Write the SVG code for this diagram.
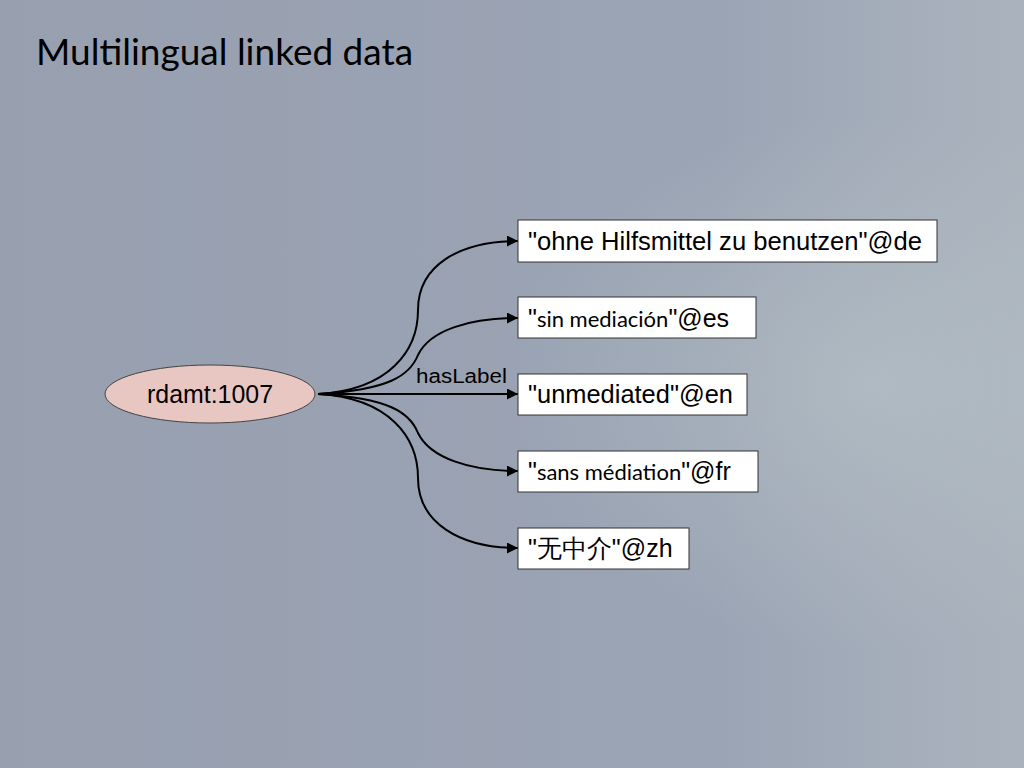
<svg xmlns="http://www.w3.org/2000/svg" width="1024" height="768" viewBox="0 0 1024 768">
<defs>
<linearGradient id="bg" x1="0" y1="0" x2="1" y2="0">
<stop offset="0" stop-color="#98a0b0"/><stop offset="0.7" stop-color="#9ba4b4"/><stop offset="1" stop-color="#aab3bd"/>
</linearGradient>
<radialGradient id="glow" cx="0.85" cy="0.5" r="0.35">
<stop offset="0" stop-color="#b8c3c8" stop-opacity="0.6"/><stop offset="1" stop-color="#b8c3c8" stop-opacity="0"/>
</radialGradient>
<marker id="arr" viewBox="0 0 10 10" refX="10" refY="5" markerWidth="11" markerHeight="11" markerUnits="userSpaceOnUse" orient="auto">
<path d="M0,0 L10,5 L0,10 z" fill="#000"/>
</marker>
</defs>
<style>
.box{fill:#fff;stroke:#333;stroke-width:1}
.t{font-family:"Liberation Sans",Arial,sans-serif;font-size:25px;fill:#000}
.c{font-family:Lato,"Open Sans",sans-serif;font-size:22px}
.e{fill:none;stroke:#000;stroke-width:2;marker-end:url(#arr)}
</style>
<rect width="1024" height="768" fill="url(#bg)"/>
<rect width="1024" height="768" fill="url(#glow)"/>
<text x="36" y="65" font-family="Lato,'Open Sans',sans-serif" font-size="37" fill="#000">Multilingual linked data</text>
<g id="edges">
<path class="e" d="M318,394 C390,390 418,350 418,310 C418,265 460,241 518,241"/>
<path class="e" d="M318,394 C390,390 410,375 418,355 C430,330 470,318 518,318"/>
<path class="e" d="M318,394 L518,394"/>
<path class="e" d="M318,394 C390,398 410,413 418,433 C430,458 470,471 518,471"/>
<path class="e" d="M318,394 C390,398 418,438 418,478 C418,523 460,548 518,548"/>
<text x="416" y="383" font-family="'Liberation Sans',Arial,sans-serif" font-size="20" textLength="91" lengthAdjust="spacingAndGlyphs">hasLabel</text>
</g>
<g id="n0"><ellipse cx="210" cy="394" rx="105" ry="29" fill="#e8c6c2" stroke="#444" stroke-width="1"/>
<text class="t" x="210" y="403" text-anchor="middle" textLength="126" lengthAdjust="spacingAndGlyphs">rdamt:1007</text></g>
<g id="n1"><rect class="box" x="518" y="220" width="419" height="42"/><text class="t" x="528" y="250" textLength="394" lengthAdjust="spacingAndGlyphs">"ohne Hilfsmittel zu benutzen"@de</text></g>
<g id="n2"><rect class="box" x="518" y="297" width="238" height="41"/><text class="t" x="528" y="327">"<tspan class="c">sin mediación</tspan>"@es</text></g>
<g id="n3"><rect class="box" x="518" y="374" width="229" height="41"/><text class="t" x="528" y="403" textLength="205" lengthAdjust="spacingAndGlyphs">"unmediated"@en</text></g>
<g id="n4"><rect class="box" x="518" y="451" width="240" height="41"/><text class="t" x="528" y="480">"<tspan class="c">sans médiation</tspan>"@fr</text></g>
<g id="n5"><rect class="box" x="518" y="528" width="171" height="41"/><text class="t" x="528" y="557" font-family="'Liberation Sans','Noto Sans CJK SC',sans-serif">"无中介"@zh</text></g>
</svg>
